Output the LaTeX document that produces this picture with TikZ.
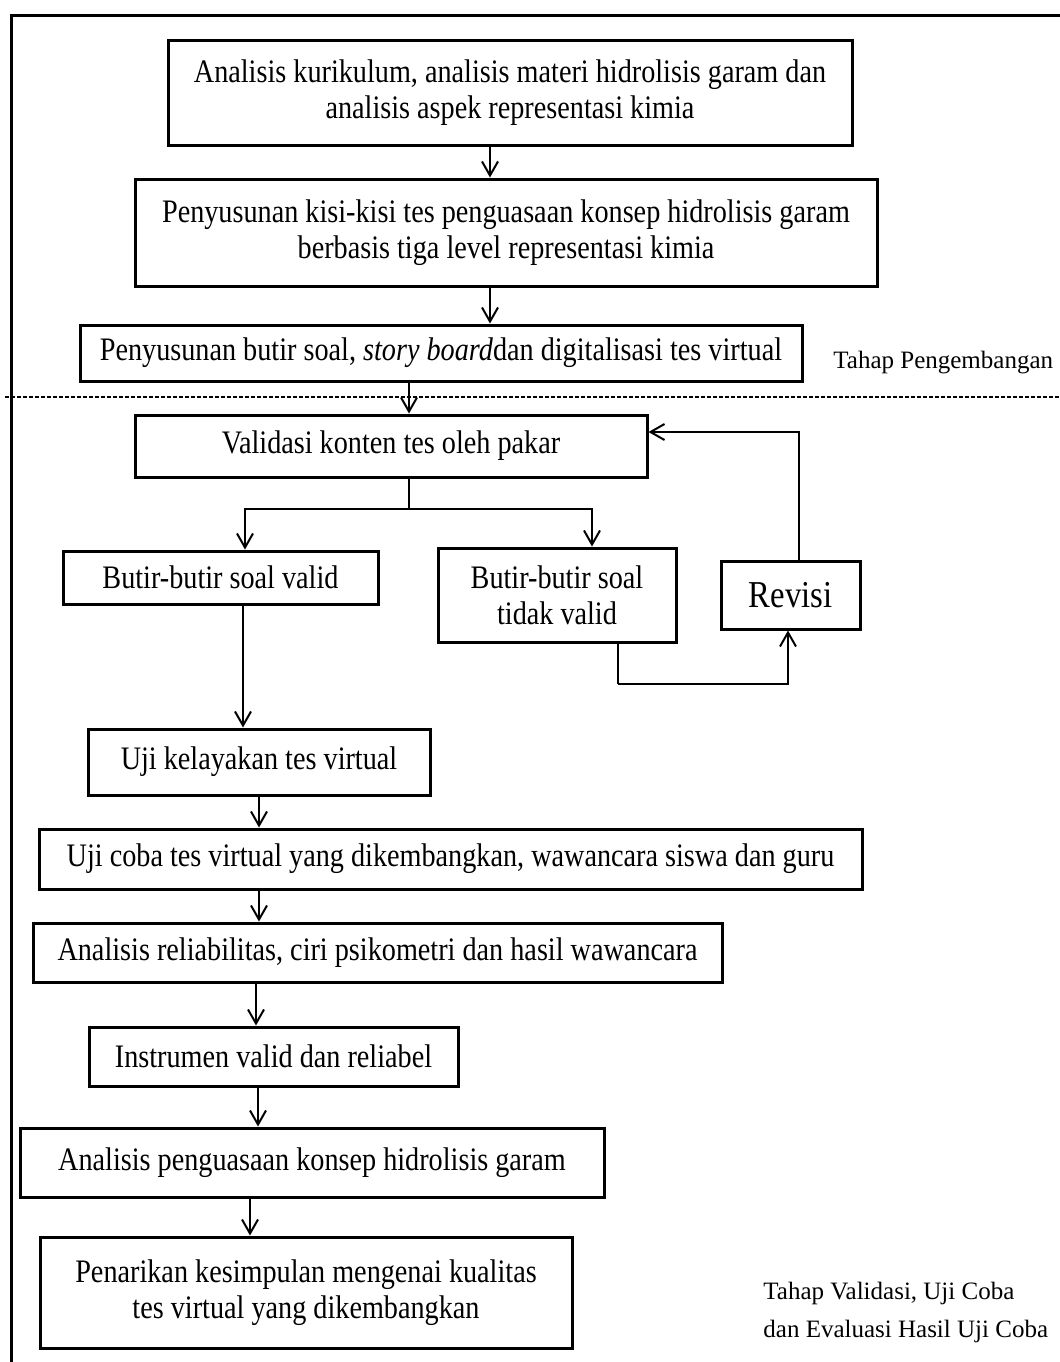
\documentclass[tikz,border=0pt]{standalone}
\usepackage{fontspec}
\setmainfont{Liberation Serif}
\newfontfamily\boxfont{Liberation Serif}[FakeStretch=0.86]
\usetikzlibrary{arrows.meta}

\begin{document}
\begin{tikzpicture}[x=0.5pt,y=-0.5pt,>={Straight Barb[length=7pt,width=8pt]},
  stage/.style={draw,line width=1.5pt,align=center,inner sep=0pt,
    font=\boxfont\fontsize{16.4}{18}\selectfont},
  flow/.style={->,line width=1pt},
  phase/.style={align=left,anchor=west,inner sep=0pt,font=\fontsize{12.5}{19}\selectfont}]
  \useasboundingbox (0,0) rectangle (1060,1362);
  % frame and phase divider
  \draw[line width=1.5pt] (11,1362) -- (11,15) -- (1060,15);
  \draw[line width=0.9pt,dash pattern=on 2pt off 1pt] (5,397) -- (1060,397);
  \node[phase] (tpeng) at (833,363) {Tahap Pengembangan};
  \node[phase] (tval) at (763,1312) {Tahap Validasi, Uji Coba\\dan Evaluasi Hasil Uji Coba};
  % development stage
  \node[stage,minimum width=342pt,minimum height=52.5pt] (kurikulum) at (510,92.5)
    {Analisis kurikulum, analisis materi hidrolisis garam dan\\analisis aspek representasi kimia};
  \node[stage,minimum width=371pt,minimum height=53.5pt] (kisi) at (506,232.5)
    {Penyusunan kisi-kisi tes penguasaan konsep hidrolisis garam\\berbasis tiga level representasi kimia};
  \node[stage,minimum width=361pt,minimum height=28pt] (butir) at (441,353)
    {Penyusunan butir soal, \textit{story board}dan digitalisasi tes virtual};
  % validation stage
  \node[stage,minimum width=256pt,minimum height=31pt] (validasi) at (391,446)
    {Validasi konten tes oleh pakar};
  \node[stage,minimum width=157.5pt,minimum height=26.5pt] (valid) at (220.5,577.5)
    {Butir-butir soal valid};
  \node[stage,minimum width=119pt,minimum height=47pt] (tdkvalid) at (557,595)
    {Butir-butir soal\\tidak valid};
  \node[stage,minimum width=69.5pt,minimum height=34pt,
    font=\boxfont\fontsize{19}{20}\selectfont] (revisi) at (790.5,595) {Revisi};
  \node[stage,minimum width=171pt,minimum height=33pt] (kelayakan) at (259,762)
    {Uji kelayakan tes virtual};
  \node[stage,minimum width=411.5pt,minimum height=30pt] (ujicoba) at (450.5,859)
    {Uji coba tes virtual yang dikembangkan, wawancara siswa dan guru};
  \node[stage,minimum width=344.5pt,minimum height=29.5pt] (reliab) at (377.5,952.5)
    {Analisis reliabilitas, ciri psikometri dan hasil wawancara};
  \node[stage,minimum width=184.5pt,minimum height=29.5pt] (instrumen) at (273.5,1056.5)
    {Instrumen valid dan reliabel};
  \node[stage,minimum width=292pt,minimum height=34.5pt] (penguasaan) at (312,1162.5)
    {Analisis penguasaan konsep hidrolisis garam};
  \node[stage,minimum width=266pt,minimum height=55.5pt] (kesimpulan) at (306,1292.5)
    {Penarikan kesimpulan mengenai kualitas\\tes virtual yang dikembangkan};
  % connectors
  \coordinate (split) at (409,509);
  \coordinate (loop) at (618,684);
  \draw[flow] (490,0 |- kurikulum.south) -- (490,0 |- kisi.north);
  \draw[flow] (490,0 |- kisi.south) -- (490,0 |- butir.north);
  \draw[flow] (409,0 |- butir.south) -- (409,0 |- validasi.north);
  \draw[line width=1pt] (split |- validasi.south) -- (split);
  \draw[flow] (split) -| (245,0 |- valid.north);
  \draw[flow] (split) -| (592,0 |- tdkvalid.north);
  \draw[line width=1pt] (loop |- tdkvalid.south) -- (loop);
  \draw[flow] (loop) -| (788,0 |- revisi.south);
  \draw[flow] (799,0 |- revisi.north) |- (validasi.east |- 0,432);
  \draw[flow] (243,0 |- valid.south) -- (243,0 |- kelayakan.north);
  \draw[flow] (259,0 |- kelayakan.south) -- (259,0 |- ujicoba.north);
  \draw[flow] (259,0 |- ujicoba.south) -- (259,0 |- reliab.north);
  \draw[flow] (256,0 |- reliab.south) -- (256,0 |- instrumen.north);
  \draw[flow] (258,0 |- instrumen.south) -- (258,0 |- penguasaan.north);
  \draw[flow] (250,0 |- penguasaan.south) -- (250,0 |- kesimpulan.north);
\end{tikzpicture}
\end{document}
